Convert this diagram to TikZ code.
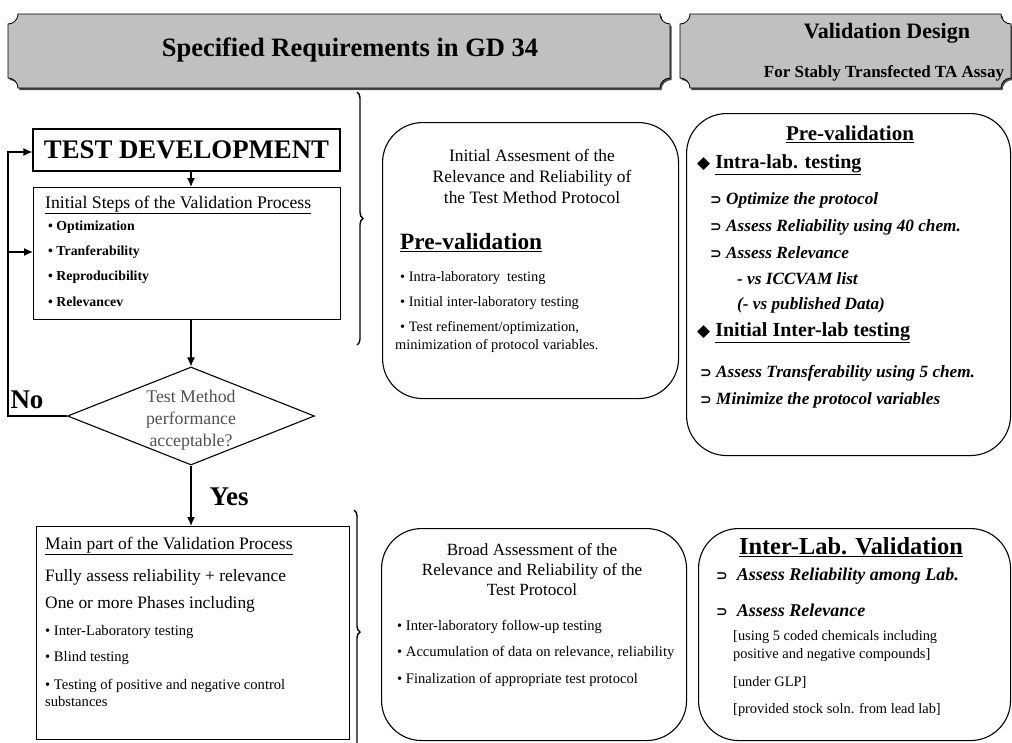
\documentclass[tikz,border=0pt]{standalone}
\usepackage{fontspec}
\setmainfont{Liberation Serif}
\newfontfamily\symf{DejaVu Sans}
\usetikzlibrary{shapes.geometric,arrows.meta,decorations.pathreplacing}
\definecolor{bannergray}{HTML}{C0C0C0}
\definecolor{dmtext}{HTML}{505050}
\newcommand{\fs}[2]{\fontsize{#1}{#2}\selectfont}
\newcommand{\dsym}{{\symf\bfseries\upshape\fontsize{14}{16}\selectfont ⊃}}
\newcommand{\dia}{{\symf\fontsize{17}{19}\selectfont ◆}}
\begin{document}
\begin{tikzpicture}[x=1pt,y=1pt,
  box/.style={draw, line width=1.1pt, inner sep=0},
  rbox/.style={draw, line width=1.1pt, rounded corners=40pt},
  txt/.style={inner sep=0, anchor=west},
  ctxt/.style={inner sep=0, align=center},
  arr/.style={line width=1.3pt, -{Latex[length=9pt,width=8pt]}},
  lin/.style={line width=1.3pt},
  brc/.style={line width=1.4pt, decorate, decoration={brace, amplitude=6pt}},
  banner/.style={fill=bannergray, draw=black, line width=0.8pt},
  bshadow/.style={fill=black!70},
  bi/.style={txt, font=\fs{17.2}{20}\bfseries\itshape},
  bul/.style={txt, font=\fs{14.4}{17}}
]
\useasboundingbox (0,0) rectangle (1012,-742);
\begin{scope}
\clip (0,0) rectangle (1012,-742);
% banners
\foreach \xa/\xb in {8/670, 680/1011}{
  \path[bshadow] ({\xa+10+1.5},{-14-2}) -- ({\xb-10+1.5},{-14-2}) arc[start angle=180,end angle=270,radius=10] -- ({\xb+1.5},{-88+10-2}) arc[start angle=90,end angle=180,radius=10] -- ({\xa+10+1.5},{-88-2}) arc[start angle=0,end angle=90,radius=10] -- ({\xa+1.5},{-14-10-2}) arc[start angle=270,end angle=360,radius=10] -- cycle;
  \path[banner] ({\xa+10},-14) -- ({\xb-10},-14) arc[start angle=180,end angle=270,radius=10] -- (\xb,{-88+10}) arc[start angle=90,end angle=180,radius=10] -- ({\xa+10},-88) arc[start angle=0,end angle=90,radius=10] -- (\xa,{-14-10}) arc[start angle=270,end angle=360,radius=10] -- cycle;
}
\end{scope}
\node[ctxt, font=\fs{26.5}{30}\bfseries] (h1) at (350,-50) {Specified Requirements in GD 34};
\node[ctxt, font=\fs{22}{26}\bfseries] (h2) at (887,-33) {Validation Design};
\node[ctxt, font=\fs{17}{20}\bfseries] (h3) at (884,-73) {For Stably Transfected TA Assay};

% left column
\node[box, minimum width=307pt, minimum height=42pt, font=\fs{26.8}{30}\bfseries] (td) at (186.5,-150) {TEST DEVELOPMENT};
\node[box, minimum width=307pt, minimum height=132pt, anchor=north west] (is) at (33,-187) {};
\node[txt, font=\fs{17.7}{20}] (is0) at (45,-205) {\underline{Initial Steps of the Validation Process}};
\node[txt, font=\fs{13.8}{16}\bfseries] (is1) at (48,-227) {• Optimization};
\node[txt, font=\fs{13.8}{16}\bfseries] (is2) at (48,-252) {• Tranferability};
\node[txt, font=\fs{13.8}{16}\bfseries] (is3) at (48,-277) {• Reproducibility};
\node[txt, font=\fs{13.8}{16}\bfseries] (is4) at (48,-302) {• Relevancev};

\node[diamond, draw, line width=1.1pt, minimum width=247pt, minimum height=98pt, inner sep=0, aspect=2.5] (dm) at (191,-416) {};
\node[ctxt, text=dmtext, font=\fs{17.8}{22}] (dmt) at (191,-420) {Test Method\\performance\\acceptable?};

\node[box, minimum width=313pt, minimum height=213pt, anchor=north west] (mp) at (36,-526) {};
\node[txt, font=\fs{17.5}{20}] (mp0) at (45,-546) {\underline{Main part of the Validation Process}};
\node[txt, font=\fs{17.4}{20}] (mp1) at (45,-577) {Fully assess reliability + relevance};
\node[txt, font=\fs{17.4}{20}] (mp2) at (45,-604) {One or more Phases including};
\node[txt, font=\fs{14.6}{17}] (mp3) at (45,-632) {• Inter-Laboratory testing};
\node[txt, font=\fs{14.6}{17}] (mp4) at (45,-658) {• Blind testing};
\node[txt, align=left, font=\fs{14.6}{17}] (mp5) at (45,-692.5) {• Testing of positive and negative control\\substances};

% connectors
\draw[arr] (dm.north |- td.south) -- (dm.north |- is.north);
\draw[arr] (dm.north |- is.south) -- (dm.north);
\draw[arr] (dm.south) -- (dm.south |- mp.north);
\coordinate (fb) at (8,-416);
\coordinate (fbt) at (8,-152);
\draw[lin] (dm.west) -- (fb) -- (fbt);
\draw[arr] ([xshift=-0.65pt]fbt) -- (td.west |- fbt);
\draw[arr] (fb |- is2) -- (is.west |- is2);
\node[inner sep=0, font=\fs{27}{30}\bfseries] (no) at (27,-400) {No};
\node[inner sep=0, font=\fs{27}{30}\bfseries] (yes) at (229,-497) {Yes};

% braces
\draw[brc] (357,-92) -- (357,-345);
\draw[brc] (354,-510) -- (354,-754);

% middle upper
\node[rbox, minimum width=296pt, minimum height=276pt, anchor=north west] (m1) at (382,-122) {};
\node[ctxt, font=\fs{17.4}{21}] (m1t) at (532,-176) {Initial Assesment of the\\Relevance and Reliability of\\the Test Method Protocol};
\node[txt, font=\fs{23.3}{26}\bfseries] (m1h) at (400,-243) {\underline{Pre-validation}};
\node[bul] (m1a) at (400,-278) {• Intra-laboratory\ \ testing};
\node[bul] (m1b) at (400,-303) {• Initial inter-laboratory testing};
\node[bul] (m1c) at (400,-328) {• Test refinement/optimization,};
\node[bul] (m1d) at (395,-346) {minimization of protocol variables.};

% middle lower
\node[rbox, minimum width=305pt, minimum height=212pt, anchor=north west] (m2) at (381,-528) {};
\node[ctxt, font=\fs{17.1}{20}] (m2t) at (532,-570) {Broad Assessment of the\\Relevance and Reliability of the\\Test Protocol};
\node[txt, font=\fs{14.6}{17}] (m2a) at (397,-627) {• Inter-laboratory follow-up testing};
\node[txt, font=\fs{14.6}{17}] (m2b) at (397,-653) {• Accumulation of data on relevance, reliability};
\node[txt, font=\fs{14.6}{17}] (m2c) at (397,-680) {• Finalization of appropriate test protocol};

% right upper
\node[rbox, minimum width=324pt, minimum height=342pt, anchor=north west] (r1) at (686,-113) {};
\node[ctxt, font=\fs{21}{24}\bfseries] (r1h) at (850,-134) {\underline{Pre-validation}};
\node[txt, font=\fs{20}{23}\bfseries] (r1a) at (697,-165) {\dia\ \underline{Intra-lab. testing}};
\node[bi] (r1b) at (710,-200) {\dsym\ Optimize the protocol};
\node[bi] (r1c) at (710,-227) {\dsym\ Assess Reliability using 40 chem.};
\node[bi] (r1d) at (710,-253) {\dsym\ Assess Relevance};
\node[bi] (r1e) at (737,-279) {- vs ICCVAM list};
\node[bi] (r1f) at (737,-305) {(- vs published Data)};
\node[txt, font=\fs{20}{23}\bfseries] (r1g) at (697,-333) {\dia\ \underline{Initial Inter-lab testing}};
\node[bi] (r1h2) at (700,-373) {\dsym\ Assess Transferability using 5 chem.};
\node[bi] (r1i) at (700,-400) {\dsym\ Minimize the protocol variables};

% right lower
\node[rbox, minimum width=312pt, minimum height=212pt, anchor=north west] (r2) at (698,-528) {};
\node[ctxt, font=\fs{24.4}{28}\bfseries] (r2h) at (851,-547) {\underline{Inter-Lab. Validation}};
\node[txt, font=\fs{18}{21}\bfseries\itshape] (r2a) at (716,-576) {\dsym\ \ Assess Reliability among Lab.};
\node[txt, font=\fs{18}{21}\bfseries\itshape] (r2b) at (716,-610) {\dsym\ \ Assess Relevance};
\node[txt, align=left, font=\fs{14.4}{18}] (r2c) at (733,-646) {[using 5 coded chemicals including\\positive and negative compounds]};
\node[bul] (r2d) at (733,-682) {[under GLP]};
\node[bul] (r2e) at (733,-710) {[provided stock soln. from lead lab]};
\end{tikzpicture}
\end{document}
